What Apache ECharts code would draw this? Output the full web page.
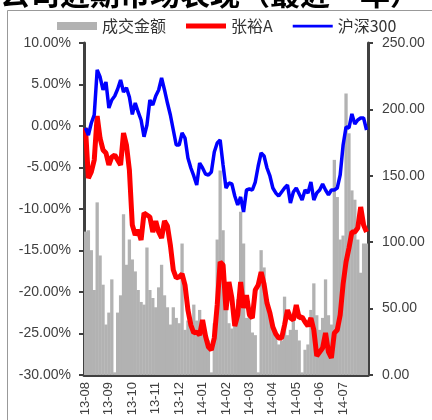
<!DOCTYPE html>
<html lang="zh">
  <head>
    <meta charset="utf-8">
    <title>公司近期市场表现</title>
    <script src="https://cdn.jsdelivr.net/npm/echarts@6.0.0/dist/echarts.min.js"></script>
    <style>
      html, body { margin: 0; padding: 0; background: #fff; }
      #chart { width: 432px; height: 420px; }
    </style>
  </head>
  <body>
    <div id="chart"></div>
    <script>
      //月份刻度标签(每8个数据点一个月)
      var monthLabels = ['13-08', '13-09', '13-10', '13-11', '13-12', '14-01',
                         '14-02', '14-03', '14-04', '14-05', '14-06', '14-07'];
      var perMonth = 8;

      //张裕A 累计涨跌幅(%)
      var zhangyu = [
          -0.24, -6.27, -5.54, -4.10, 1.20, -1.50, -2.89, -3.25, -4.70, -3.73,
          -3.49, -4.10, -4.70, -0.84, -2.29, -5.30, -11.93, -13.13, -12.53, -13.73,
          -10.48, -10.72, -10.96, -12.77, -11.45, -12.77, -13.49, -11.45, -12.05, -14.34,
          -17.35, -18.31, -18.19, -17.83, -19.16, -22.17, -23.98, -24.94, -24.82, -25.18,
          -23.37, -25.30, -26.63, -26.99, -25.54, -21.57, -16.39, -16.75, -22.17, -18.80,
          -20.72, -24.10, -22.77, -18.80, -21.93, -20.36, -22.77, -23.13, -19.76, -19.16,
          -17.59, -19.04, -21.33, -22.53, -24.22, -25.06, -25.54, -25.54, -23.98, -22.17,
          -23.13, -23.37, -21.57, -23.13, -23.01, -23.61, -24.10, -23.13, -24.58, -27.71,
          -27.23, -26.75, -24.94, -27.23, -27.95, -24.94, -24.58, -22.77, -19.04, -16.39,
          -14.70, -12.77, -12.77, -12.29, -9.76, -11.93, -12.77
      ];

      //沪深300 累计涨跌幅(%)
      var hs300 = [
          -0.24, -1.08, 0.36, 1.33, 6.75, 5.90, 4.34, 5.30, 2.17, 3.13,
          3.61, 4.46, 5.54, 4.10, 4.60, 3.50, 1.40, 2.77, 1.69, 0.72,
          -1.30, 0.12, 3.13, 2.53, 3.61, 4.34, 5.78, 4.34, 2.77, 1.33,
          -0.48, -2.29, -2.30, -0.84, -1.45, -3.86, -5.06, -6.02, -7.11, -4.46,
          -5.06, -5.78, -5.90, -5.54, -3.13, -2.05, -1.69, -4.70, -7.47, -6.87,
          -6.99, -8.43, -9.52, -8.55, -10.36, -7.71, -7.59, -7.71, -6.75, -4.82,
          -3.25, -3.61, -5.06, -6.02, -7.47, -8.07, -8.43, -7.95, -7.47, -7.11,
          -9.28, -7.95, -7.47, -8.19, -8.92, -7.71, -8.07, -6.75, -8.92, -8.07,
          -7.71, -6.99, -7.71, -8.31, -7.71, -7.71, -7.47, -5.90, -2.29, -0.12,
          -0.24, 1.45, 0.24, 0.72, 0.96, 0.96, -0.48
      ];

      //成交金额
      var turnover = [
          108, 109, 94, 64, 130, 90, 68, 38, 47, 72,
          2, 47, 60, 121, 83, 102, 87, 78, 64, 55,
          53, 96, 64, 58, 51, 66, 83, 60, 51, 38,
          51, 43, 39, 99, 34, 41, 36, 53, 41, 49,
          39, 30, 26, 2, 39, 102, 154, 109, 57, 39,
          35, 37, 57, 123, 99, 43, 45, 32, 30, 2,
          94, 81, 57, 44, 38, 32, 23, 26, 59, 30,
          34, 47, 34, 26, 2, 19, 23, 49, 69, 45,
          34, 43, 72, 45, 38, 162, 134, 102, 105, 212,
          182, 139, 132, 102, 77, 99, 99
      ];

      //横坐标类目
      var categories = [];
      for (var i = 0; i < turnover.length; i++) {
          categories.push(String(i));
      }
      function isMonthStart(index) {
          return index % perMonth === 0;
      }

      var axisColor = '#404040';
      var labelFont = 'Liberation Sans';

      var myChart = echarts.init(document.getElementById('chart'), null, { renderer: 'canvas' });
      myChart.setOption({
          animation: false,
          backgroundColor: '#fff',
          graphic: [
              {
                  type: 'rect',
                  shape: { x: 7.5, y: 10.5, width: 440, height: 430 },
                  style: { fill: 'none', stroke: '#999', lineWidth: 1 },
                  z: -1
              },
              {
                  type: 'text',
                  left: 0,
                  top: -21,
                  style: {
                      text: '公司近期市场表现（最近一年）',
                      font: 'bold 30px "Noto Sans CJK SC"',
                      fill: '#000'
                  }
              }
          ],
          legend: {
              left: 52,
              top: 13,
              itemWidth: 40,
              itemHeight: 8,
              itemGap: 20,
              textStyle: { fontSize: 16, color: '#333', fontFamily: 'Noto Sans CJK SC' },
              data: [
                  { name: '成交金额', icon: 'rect' },
                  //图例线条: 用首尾的空移动点撑出8px高的包围盒
                  { name: '张裕A', icon: 'path://M0,0 M0,1.5 L40,1.5 L40,6.5 L0,6.5 Z M0,8' },
                  { name: '沪深300', icon: 'path://M0,0 M0,2.8 L40,2.8 L40,5.4 L0,5.4 Z M0,8' }
              ]
          },
          grid: { left: 84, right: 64, top: 43, bottom: 45 },
          xAxis: {
              type: 'category',
              data: categories,
              boundaryGap: true,
              axisLine: { onZero: false, lineStyle: { color: axisColor, width: 3 } },
              axisTick: {
                  alignWithLabel: true,
                  interval: isMonthStart,
                  length: 4,
                  lineStyle: { color: axisColor, width: 2 }
              },
              axisLabel: {
                  interval: isMonthStart,
                  rotate: 90,
                  margin: 7,
                  fontSize: 13,
                  fontFamily: labelFont,
                  color: axisColor,
                  formatter: function (value, index) {
                      return isMonthStart(index) ? monthLabels[index / perMonth] : '';
                  }
              },
              splitLine: { show: false }
          },
          yAxis: [
              {
                  type: 'value',
                  min: -30,
                  max: 10,
                  interval: 5,
                  axisLine: { show: true, lineStyle: { color: axisColor, width: 3 } },
                  axisTick: { show: true, length: 5, lineStyle: { color: axisColor, width: 2 } },
                  axisLabel: {
                      margin: 13,
                      fontSize: 14,
                      fontFamily: labelFont,
                      color: axisColor,
                      formatter: function (v) { return v.toFixed(2) + '%'; }
                  },
                  splitLine: { show: false }
              },
              {
                  type: 'value',
                  position: 'right',
                  min: 0,
                  max: 250,
                  interval: 50,
                  axisLine: { show: true, lineStyle: { color: axisColor, width: 3 } },
                  axisTick: { show: true, length: 5, lineStyle: { color: axisColor, width: 2 } },
                  axisLabel: {
                      margin: 14,
                      fontSize: 14,
                      fontFamily: labelFont,
                      color: axisColor,
                      formatter: function (v) { return v.toFixed(2); }
                  },
                  splitLine: { show: false }
              }
          ],
          series: [
              {
                  name: '成交金额',
                  type: 'bar',
                  yAxisIndex: 1,
                  barWidth: 3.3,
                  itemStyle: { color: '#b2b2b2' },
                  data: turnover,
                  z: 1
              },
              {
                  name: '张裕A',
                  type: 'line',
                  yAxisIndex: 0,
                  symbol: 'none',
                  lineStyle: { color: '#ff0000', width: 5 },
                  itemStyle: { color: '#ff0000' },
                  data: zhangyu,
                  z: 3
              },
              {
                  name: '沪深300',
                  type: 'line',
                  yAxisIndex: 0,
                  symbol: 'none',
                  lineStyle: { color: '#0000ff', width: 3.5 },
                  itemStyle: { color: '#0000ff' },
                  data: hs300,
                  z: 4
              }
          ]
      });
    </script>
  </body>
</html>
